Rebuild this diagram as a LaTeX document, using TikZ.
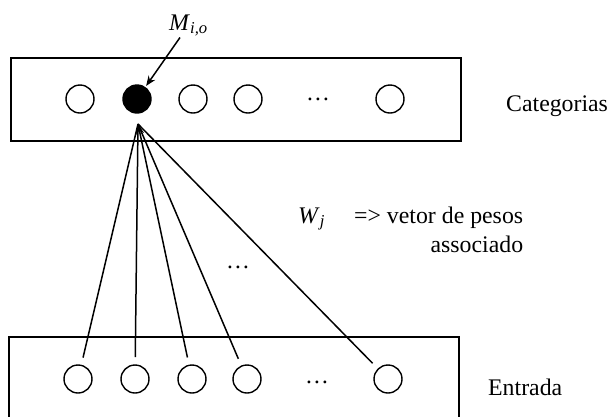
\documentclass[tikz,border=0pt]{standalone}
\usepackage{fontspec}
\setmainfont{Liberation Serif}
\usetikzlibrary{arrows.meta, positioning}

\begin{document}
\begin{tikzpicture}[
    x=1pt, y=-1pt,
    font=\fontsize{23.8}{29}\selectfont,
    layer/.style={rectangle, draw, line width=1.5pt, minimum width=450pt, inner sep=0pt},
    unit/.style={circle, draw, line width=1.4pt, minimum size=28pt,
                 inner sep=0pt, outer sep=0pt, fill=#1},
    unit/.default=none,
    arr/.style={-{Stealth[length=10pt, width=8pt]}, line width=1.5pt},
    link/.style={line width=1.5pt, shorten <=8pt},
    lbl/.style={inner sep=1pt},
]
    \useasboundingbox (0,0) rectangle (611,416);

    % camada de categorias
    \node[layer, minimum height=83pt] (cat) at (236,99.5) {};
    \node[unit] (c1) at (80,99) {};
    \node[unit=black] (c2) at (137,99) {};
    \node[unit] (c3) at (193,99) {};
    \node[unit] (c4) at (248,99) {};
    \node[lbl] (cdots) at (318,99) {\dots};
    \node[unit] (c6) at (390,99) {};
    \node[lbl, anchor=base west] (catlbl) at (505,111) {Categorias};

    % camada de entrada
    \node[layer, minimum height=100pt] (ent) at (234,387) {};
    \node[unit] (b1) at (78,379) {};
    \node[unit] (b2) at (135,379) {};
    \node[unit] (b3) at (192,379) {};
    \node[unit] (b4) at (247,379) {};
    \node[lbl] (bdots) at (317,382) {\dots};
    \node[unit] (b6) at (388,379) {};
    \node[lbl, anchor=base west] (entlbl) at (487,395) {Entrada};

    \node[lbl, anchor=base west] (mlbl) at (168,30) {\textit{M}\textsubscript{\textit{i,o}}};
    \draw[arr, shorten >=2pt] (mlbl) -- (c2);

    % pesos
    \coordinate (tip) at (138,124);
    \draw[link] (b1) -- (tip);
    \draw[link] (b2) -- (tip);
    \draw[link, arr] (b3) -- (tip);
    \draw[link] (b4) -- (tip);
    \draw[link] (b6) -- (tip);
    \node[lbl] (mdots) at (238,267) {\dots};

    \node[lbl, anchor=base west] (wj) at (297,223) {\textit{W}\textsubscript{\textit{j}}};
    \node[lbl, anchor=base west] (vetor) at (353,223) {=> vetor de pesos};
    \node[lbl, anchor=base east] (assoc) at ([yshift=-29pt]vetor.base east) {associado};
\end{tikzpicture}
\end{document}
